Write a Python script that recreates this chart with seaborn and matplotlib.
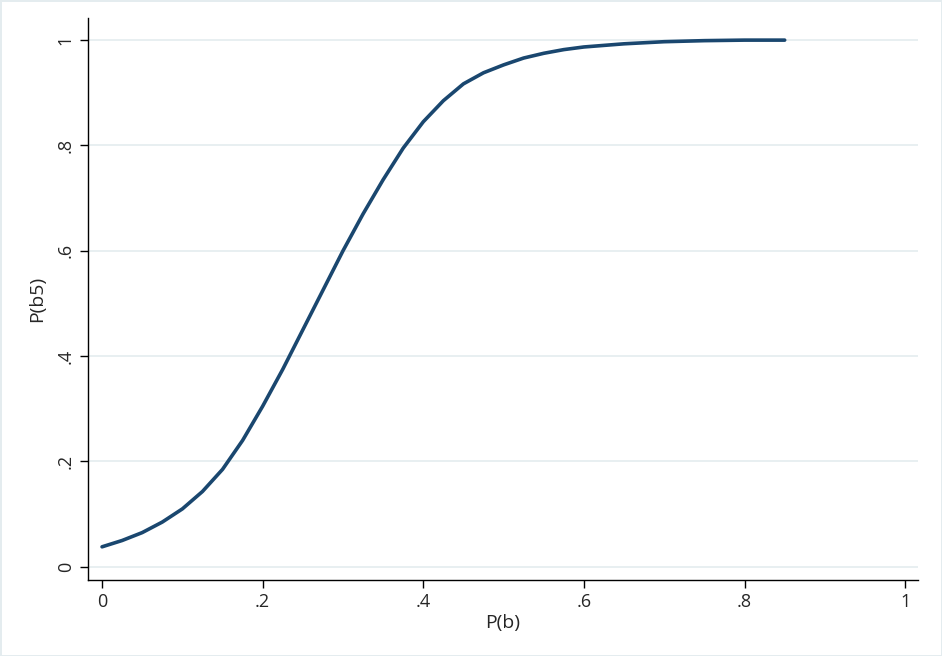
import matplotlib
matplotlib.use("Agg")
import matplotlib.pyplot as plt
import seaborn as sns
import pandas as pd

pb = [0, .025, .05, .075, .1, .125, .15, .175, .2, .225, .25, .275, .3, .325, .35, .375, .4, .425, .45, .475, .5, .525, .55, .575, .6, .65, .7, .75, .8, .85]
pb5 = [.038, .05, .065, .085, .11, .143, .185, .24, .305, .375, .45, .525, .6, .67, .735, .795, .845, .885, .917, .938, .953, .966, .975, .982, .987, .993, .997, .999, 1.0, 1.0]
xticks = [0, .2, .4, .6, .8, 1]
xlabels = ["0", ".2", ".4", ".6", ".8", "1"]
yticks = [0, .2, .4, .6, .8, 1]
ylabels = ["0", ".2", ".4", ".6", ".8", "1"]

df = pd.DataFrame({"P(b)": pb, "P(b5)": pb5})
sns.set_style("white")
plt.rcParams['font.family'] = ['Open Sans', 'DejaVu Sans']
fig = plt.figure(figsize=(9.42, 6.56), dpi=100)
fig.patch.set_edgecolor("#e4ecef"); fig.patch.set_linewidth(2)
ax = fig.add_axes([88/942, 1-580/656, (918-88)/942, (580-18)/656])
sns.lineplot(data=df, x="P(b)", y="P(b5)", ax=ax, color="#1a476f", lw=2.6)
ax.lines[0].set_solid_joinstyle("round")
ax.set_xlim(-0.0175, 1.016)
ax.set_ylim(-0.025, 1.042)
ax.set_xticks(xticks, xlabels, fontsize=13)
ax.set_yticks(yticks, ylabels, fontsize=13, rotation=90, va="center")
ax.tick_params(axis="both", length=6, width=1, color="black", direction="out", left=True, bottom=True)
ax.grid(axis="y", color="#e4ecef", lw=1.2)
for s in ["top", "right"]:
    ax.spines[s].set_visible(False)
for s in ["left", "bottom"]:
    ax.spines[s].set_color("black"); ax.spines[s].set_linewidth(1)
ax.set_xlabel("P(b)", fontsize=14, labelpad=2)
ax.set_ylabel("P(b5)", fontsize=14, labelpad=8)
fig.savefig("out.png", dpi=100)
